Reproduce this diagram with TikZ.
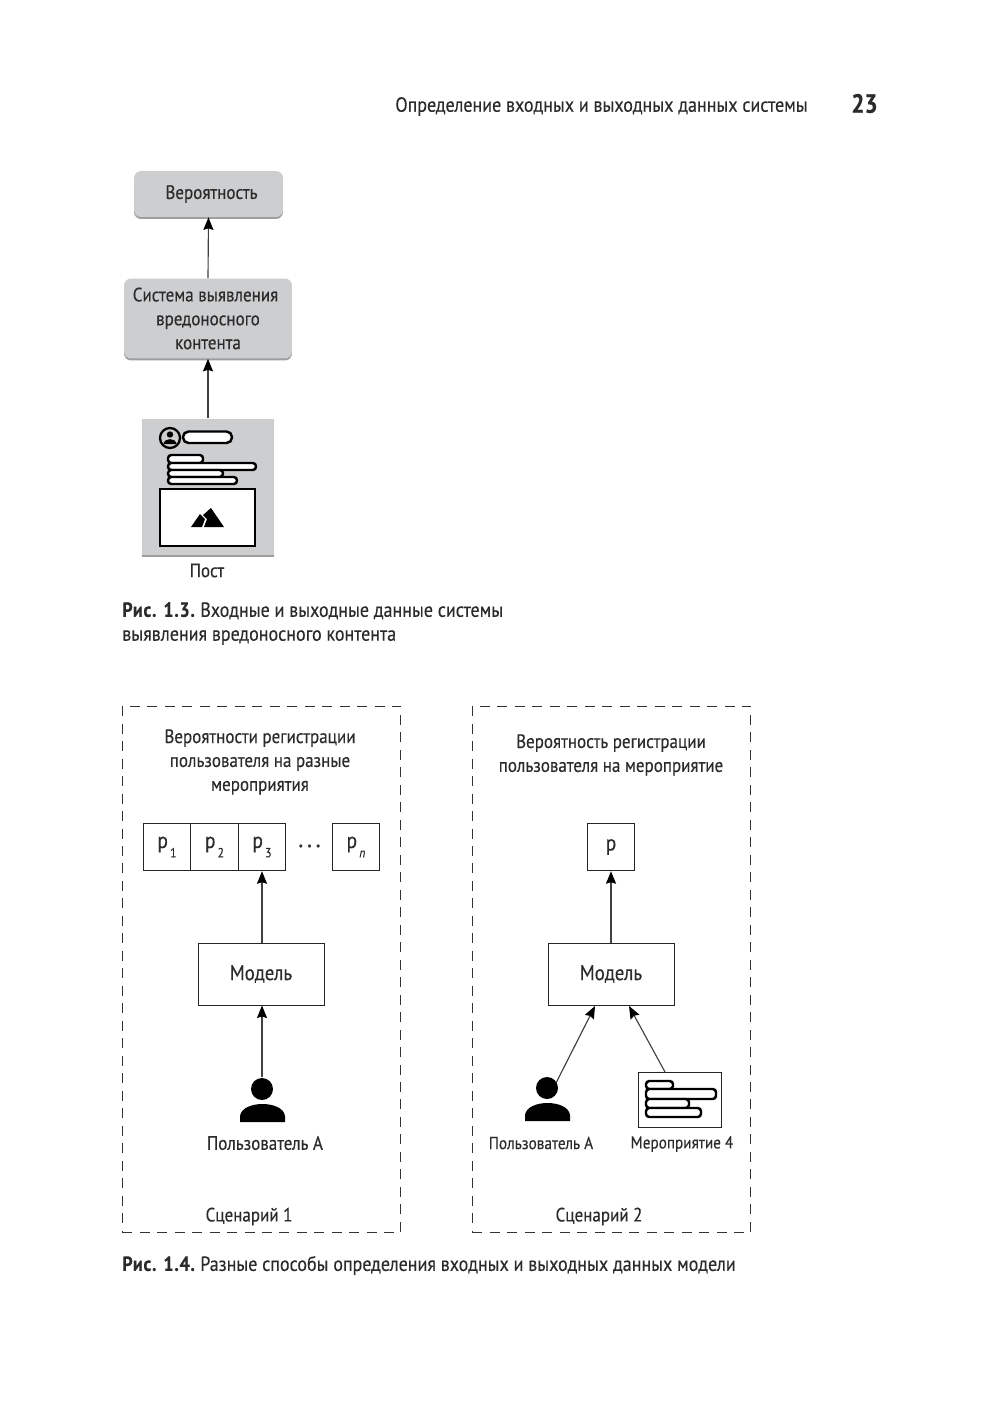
\documentclass[tikz,border=0pt]{standalone}
\usepackage{fontspec}
\setmainfont[FakeStretch=0.88, FakeBold=0.25, BoldFeatures={FakeStretch=0.88}]{PT Sans}
\usepackage{tikz}
\usetikzlibrary{arrows.meta,shadows}
\definecolor{boxgray}{HTML}{CDCED0}
\definecolor{inkgray}{HTML}{2B2B2B}
\newcommand{\figtag}[1]{{\bfseries\addfontfeature{LetterSpace=3.5}#1}\hspace{-0.02cm}}
\newcommand{\pidx}[1]{p\raisebox{-0.85ex}{\fontsize{7.5}{8}\selectfont\,#1}}
\tikzset{
    txt/.style={text=inkgray, font=\fontsize{11}{13.6}\selectfont, inner sep=0pt, align=center},
    capt/.style={txt, anchor=west, align=left, font=\fontsize{11.65}{13.6}\selectfont},
    graybox/.style={fill=boxgray, rounded corners=0.14cm, align=center, text=inkgray,
        font=\fontsize{11}{13.6}\selectfont, inner sep=0pt,
        drop shadow={shadow xshift=0cm, shadow yshift=-0.04cm, fill=black!38, opacity=1}},
    wbox/.style={draw=black!85, line width=0.55pt, fill=white, text=inkgray, inner sep=0pt,
        font=\fontsize{12.5}{14}\selectfont},
    dashframe/.style={draw=black!80, line width=0.55pt, dash pattern=on 0.2cm off 0.15cm},
    conn/.style={draw=black!75, line width=0.65pt, -{Stealth[length=0.25cm, width=0.2cm, inset=0.03cm, black]}},
    pill/.style={draw=black, line width=1.4pt, rounded corners=0.065cm, fill=white},
}
\begin{document}
\begin{tikzpicture}[x=0.02cm, y=-0.02cm]
    \useasboundingbox[fill=white] (0, 0) rectangle (1000, 1413);
    % page head
    \node[capt] (head) at (395, 106.5) {Определение входных и выходных данных системы};
    \node[txt, anchor=west, font=\fontsize{15}{17}\selectfont\bfseries\addfontfeature{FakeStretch=1}] (pagenum) at (851, 103.5) {23};

    % fig 1.3: nodes
    \node[graybox, minimum width=2.98cm, minimum height=0.92cm] (prob) at (208.5, 194) {\hspace{0.12cm}\raisebox{-0.04cm}{Вероятность}};
    \node[graybox, minimum width=3.36cm, minimum height=1.6cm] (sys) at (208, 318.5) {Система выявления\hspace*{0.1cm}\\вредоносного\hspace*{0.08cm}\\контента};
    \node[graybox, rounded corners=0cm, minimum width=2.66cm, minimum height=2.74cm] (post) at (208, 487) {};
    \node[txt] (postlbl) at (207, 570.5) {Пост};
    % fig 1.3: edges
    \draw[conn] (sys.north) -- (prob.south);
    \draw[conn] (post.north) -- (sys.south);

    % post icon
    \draw[line width=1.3pt] (170, 438) circle (10);
    \fill (170, 434.5) circle (3.2);
    \fill (163.5, 444) .. controls (164, 437.5) and (176, 437.5) .. (176.5, 444) -- cycle;
    \draw[pill, rounded corners=0.11cm] (183, 431.5) rectangle (232, 443);
    \draw[pill] (168, 455) rectangle (203, 463);
    \draw[pill] (168, 463) rectangle (256, 470);
    \draw[pill] (168, 470) rectangle (223, 477);
    \draw[pill] (168, 477) rectangle (237, 484);
    \draw[draw=black, line width=1.5pt, fill=white] (160, 489) rectangle (255, 546);
    \fill (191, 527) -- (200, 514) -- (205, 519) -- (202, 527) -- cycle;
    \fill (204, 527) -- (207, 519) -- (203, 515) -- (211, 508) -- (224, 527) -- cycle;

    % fig 1.3: caption
    \node[capt] (cap13) at (122, 623.5) {\figtag{Рис. 1.3.} Входные и выходные данные системы\\выявления вредоносного контента};

    % fig 1.4: frames
    \node[dashframe, minimum width=5.58cm, minimum height=10.54cm] (leftframe) at (261.5, 969.5) {};
    \node[dashframe, minimum width=5.58cm, minimum height=10.54cm] (rightframe) at (611.5, 969.5) {};

    % left scenario: nodes
    \node[txt] (lefttitle) at (260, 762) {Вероятности регистрации\\пользователя на разные\\мероприятия};
    \node[wbox, minimum size=0.95cm] (p1) at (167, 847) {\pidx{1}};
    \node[wbox, minimum size=0.95cm] (p2) at (214.5, 847) {\pidx{2}};
    \node[wbox, minimum size=0.95cm] (p3) at (262, 847) {\pidx{3}};
    \node[txt, font=\fontsize{11}{13.6}\selectfont\bfseries\addfontfeature{LetterSpace=22}] (dots) at (309.5, 846) {...};
    \node[wbox, minimum size=0.95cm] (pn) at (356, 847) {\pidx{\itshape n}};
    \node[wbox, minimum width=2.52cm, minimum height=1.24cm, font=\fontsize{12.15}{14}\selectfont] (leftmodel) at (261, 974) {\raisebox{-0.03cm}{Модель}};
    \coordinate (lefthead) at (262, 1089);
    \fill (lefthead) circle (11);
    \fill (240, 1122) -- (240, 1116) .. controls (242, 1100) and (283, 1100) .. (285, 1116) -- (285, 1122) -- cycle;
    \node[txt] (leftuser) at (265, 1143) {Пользователь А};
    \node[txt] (scen1) at (249, 1216.5) {Сценарий 1};
    % left scenario: edges
    \draw[conn] (leftmodel.north -| p3) -- (p3.south);
    \draw[conn] (262, 1077) -- (leftmodel.south -| p3);

    % right scenario: nodes
    \node[txt] (righttitle) at (611, 755) {Вероятность регистрации\\пользователя на мероприятие};
    \node[wbox, minimum size=0.95cm] (p) at (611, 847) {p};
    \node[wbox, minimum width=2.52cm, minimum height=1.24cm, font=\fontsize{12.15}{14}\selectfont] (rightmodel) at (611, 974) {\raisebox{-0.03cm}{Модель}};
    \coordinate (righthead) at (547, 1088);
    \fill (righthead) circle (11);
    \fill (525, 1121) -- (525, 1115) .. controls (527, 1099) and (568, 1099) .. (570, 1115) -- (570, 1121) -- cycle;
    \node[wbox, minimum width=1.66cm, minimum height=1.1cm] (event) at (679.5, 1099.5) {};
    \node[txt, font=\fontsize{9.9}{12}\selectfont] (rightuser) at (541, 1143) {Пользователь А};
    \node[txt, font=\fontsize{9.85}{12}\selectfont] (eventlbl) at (682, 1144) {Мероприятие 4};
    \node[txt] (scen2) at (599, 1216.5) {Сценарий 2};
    % event icon
    \draw[pill] (646, 1081) rectangle (673, 1089);
    \draw[pill] (646, 1089) rectangle (716, 1099);
    \draw[pill] (646, 1099) rectangle (689, 1108);
    \draw[pill] (646, 1108) rectangle (701, 1117);
    % right scenario: edges
    \draw[conn] (rightmodel.north) -- (p.south);
    \draw[conn] (556, 1083) -- (595, 1006);
    \draw[conn] (665, 1072) -- (629, 1006);

    % fig 1.4: caption
    \node[capt] (cap14) at (122, 1265.5) {\figtag{Рис. 1.4.} Разные способы определения входных и выходных данных модели};
\end{tikzpicture}
\end{document}
